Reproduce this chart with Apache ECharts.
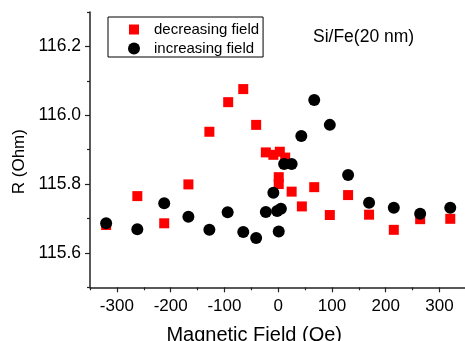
<!DOCTYPE html>
<html>
<head>
<meta charset="utf-8">
<script src="https://cdn.jsdelivr.net/npm/echarts@6/dist/echarts.min.js"></script>
<style>
  html, body { margin: 0; padding: 0; background: #fff; }
  #chart { width: 465px; height: 341px; }
</style>
</head>
<body>
<div id="chart"></div>
<script>
// Resistance vs. magnetic field sweep, Si/Fe(20 nm)
const fieldDecreasing = [-320, -262, -212, -167, -128, -93, -65, -41, -23, -9, 3, 13, 1, 1, 25, 44, 67, 96, 130, 169, 215, 264, 320];
const rDecreasing = [115.681, 115.765, 115.686, 115.799, 115.952, 116.038, 116.076, 115.972, 115.892, 115.885, 115.894, 115.877, 115.820, 115.800, 115.778, 115.735, 115.791, 115.710, 115.768, 115.711, 115.667, 115.698, 115.699];

const fieldIncreasing = [-320, -262, -212, -167, -128, -94, -65, -41, -23, -9, -2, 5, 1, 11, 25, 43, 67, 96, 130, 169, 215, 264, 320];
const rIncreasing = [115.686, 115.669, 115.744, 115.705, 115.667, 115.718, 115.661, 115.643, 115.719, 115.775, 115.722, 115.728, 115.662, 115.858, 115.858, 115.940, 116.044, 115.972, 115.826, 115.746, 115.731, 115.714, 115.731];

const xMajorTicks = [-300, -200, -100, 0, 100, 200, 300];
const xMinorTicks = [-350, -250, -150, -50, 50, 150, 250, 350];
const yMajorTicks = [115.6, 115.8, 116.0, 116.2];
const yMinorTicks = [115.5, 115.7, 115.9, 116.1, 116.3];

const FONT = '"Liberation Sans", Arial, sans-serif';
const AXIS_COLOR = '#222';

const pairs = (xs, ys) => xs.map((x, i) => [x, ys[i]]);

const chart = echarts.init(document.getElementById('chart'), null, { renderer: 'canvas' });

const baseX = { type: 'value', min: -350, max: 350, gridIndex: 0, position: 'bottom', splitLine: { show: false } };
const baseY = { type: 'value', min: 115.5, max: 116.3, gridIndex: 0, position: 'left', splitLine: { show: false } };

chart.setOption({
  animation: false,
  backgroundColor: '#fff',
  textStyle: { fontFamily: FONT },
  title: {
    text: 'Si/Fe(20 nm)',
    left: 313, top: 28, padding: 0,
    textStyle: { fontFamily: FONT, fontSize: 17.5, fontWeight: 'normal', color: '#000' }
  },
  legend: {
    orient: 'vertical',
    left: 108, top: 17,
    padding: [5, 4, 1, 19],
    itemWidth: 30, itemHeight: 12, itemGap: 4,
    symbolKeepAspect: true,
    borderColor: '#000', borderWidth: 1, borderRadius: 0,
    backgroundColor: '#fff',
    textStyle: { fontFamily: FONT, fontSize: 15, color: '#000' },
    data: [
      { name: 'decreasing field', icon: 'path://M0,0H10V10H0Z', itemStyle: { borderColor: '#fff', borderWidth: 2 } },
      { name: 'increasing field', icon: 'circle' }
    ]
  },
  grid: { left: 90, right: -1.4, top: 12, bottom: 53.7, containLabel: false, outerBoundsMode: 'none' },
  xAxis: [
    Object.assign({}, baseX, {
      name: 'Magnetic Field (Oe)',
      nameLocation: 'middle',
      nameGap: 38,
      nameTextStyle: { fontFamily: FONT, fontSize: 20, color: '#000', padding: [0, 48, 0, 0] },
      axisLine: { show: true, onZero: false, lineStyle: { color: AXIS_COLOR, width: 1.5 } },
      axisTick: { show: true, inside: false, length: 5, customValues: xMajorTicks, lineStyle: { color: AXIS_COLOR, width: 1.2 } },
      axisLabel: { show: true, margin: 11, customValues: xMajorTicks, fontFamily: FONT, fontSize: 17, color: '#000' }
    }),
    Object.assign({}, baseX, {
      axisLine: { show: false, onZero: false },
      axisTick: { show: true, inside: false, length: 3, customValues: xMinorTicks, lineStyle: { color: AXIS_COLOR, width: 1.2 } },
      axisLabel: { show: false }
    })
  ],
  yAxis: [
    Object.assign({}, baseY, {
      name: 'R (Ohm)',
      nameLocation: 'middle',
      nameGap: 61,
      nameRotate: 90,
      nameTextStyle: { fontFamily: FONT, fontSize: 17, color: '#000', padding: [0, 24, 0, 0] },
      axisLine: { show: true, onZero: false, lineStyle: { color: AXIS_COLOR, width: 1.5 } },
      axisTick: { show: true, inside: false, length: 5, customValues: yMajorTicks, lineStyle: { color: AXIS_COLOR, width: 1.2 } },
      axisLabel: { show: true, margin: 9, customValues: yMajorTicks, fontFamily: FONT, fontSize: 17.5, color: '#000',
        formatter: v => Number(v).toFixed(1) }
    }),
    Object.assign({}, baseY, {
      axisLine: { show: false, onZero: false },
      axisTick: { show: true, inside: false, length: 3, customValues: yMinorTicks, lineStyle: { color: AXIS_COLOR, width: 1.2 } },
      axisLabel: { show: false }
    })
  ],
  series: [
    {
      name: 'decreasing field',
      type: 'scatter',
      xAxisIndex: 0, yAxisIndex: 0,
      symbol: 'rect',
      symbolSize: 10,
      itemStyle: { color: '#ff0000', opacity: 1 },
      data: pairs(fieldDecreasing, rDecreasing),
      z: 2
    },
    {
      name: 'increasing field',
      type: 'scatter',
      xAxisIndex: 0, yAxisIndex: 0,
      symbol: 'circle',
      symbolSize: 12,
      itemStyle: { color: '#000000', opacity: 1 },
      data: pairs(fieldIncreasing, rIncreasing),
      z: 3
    }
  ]
});
</script>
</body>
</html>
